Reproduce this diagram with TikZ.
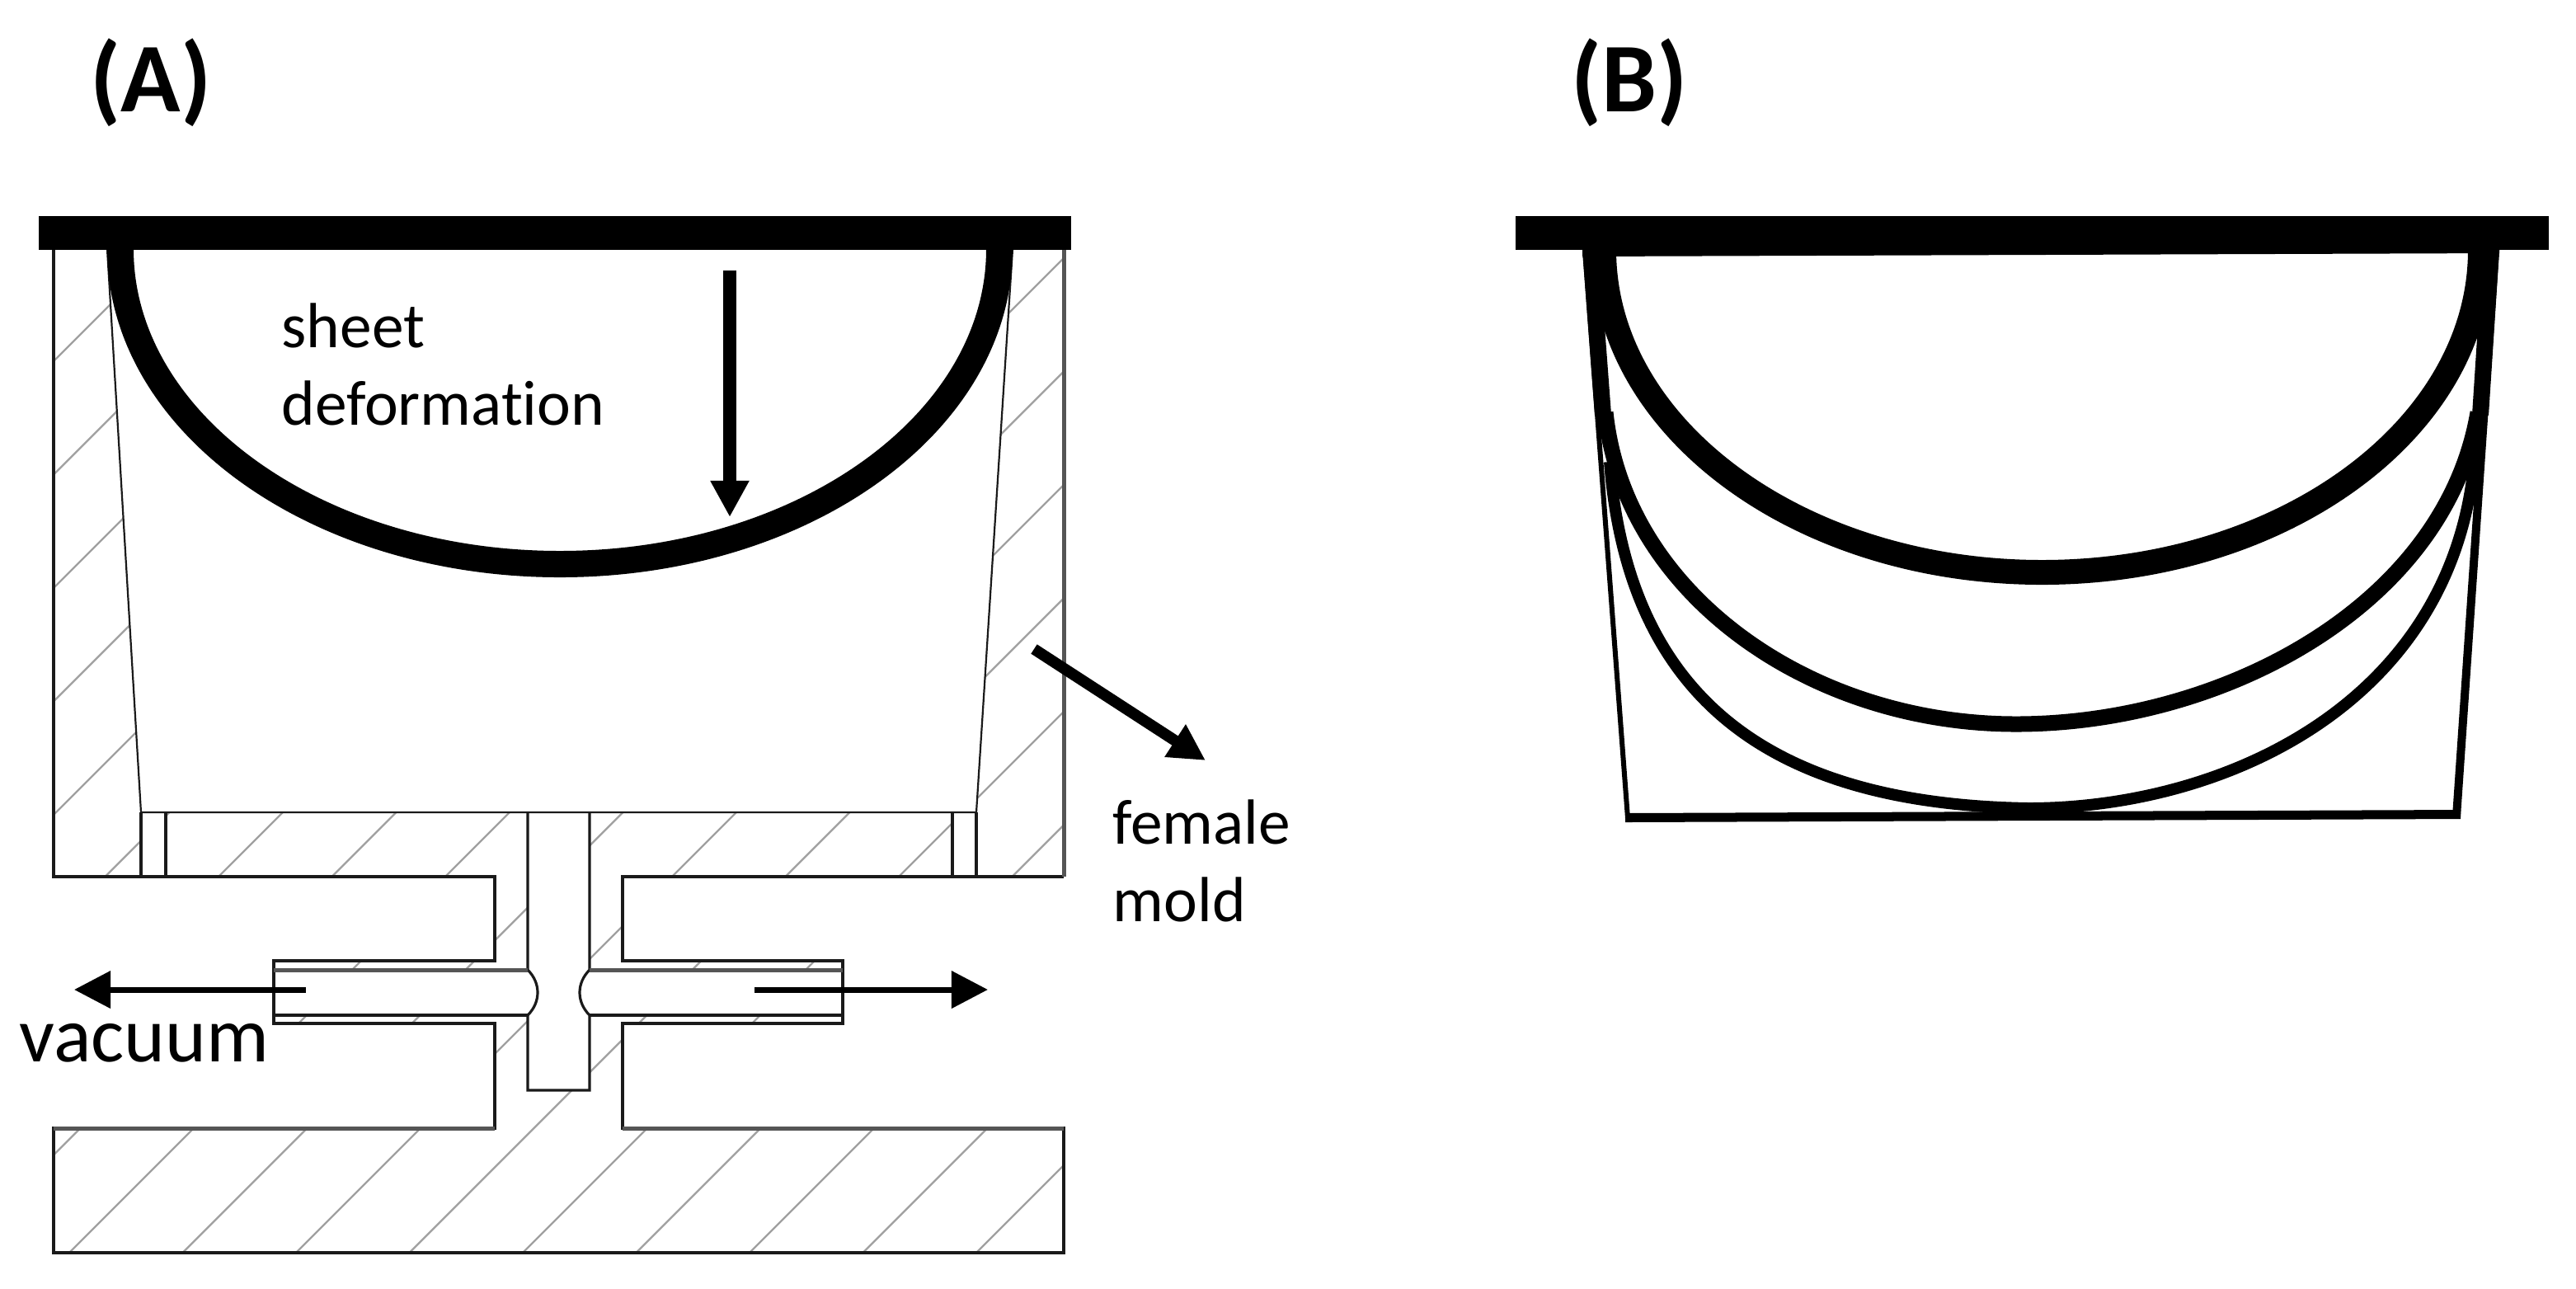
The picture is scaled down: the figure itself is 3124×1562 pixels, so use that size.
\documentclass[tikz,border=0pt]{standalone}
\usepackage{fontspec}
\setmainfont[Ligatures=NoCommon]{Carlito}
\usetikzlibrary{arrows.meta}
\definecolor{moldLine}{HTML}{1A1A1A}
\definecolor{moldDark}{HTML}{555555}
\definecolor{moldHatch}{HTML}{A0A0A0}
\tikzset{
  moldedge/.style={draw=moldLine, line width=.032cm},
  darkedge/.style={draw=moldDark, line width=.05cm},
  hatchline/.style={draw=moldHatch, line width=.022cm},
  sheetbar/.style={fill=black},
  sheetcurve/.style={draw=black, line width=#1, line cap=butt},
  panellabel/.style={inner sep=0pt, font=\fontsize{34}{38}\selectfont\bfseries},
  textlabel/.style={inner sep=0pt, align=left, font=\fontsize{22}{26.7}\selectfont},
  bigarrow/.style={draw=black, line width=#1, -{Triangle[width=.44cm,length=.44cm]}},
}
\begin{document}
\begin{tikzpicture}[x=.01cm,y=-.01cm]
    \useasboundingbox (0,0) rectangle (3124,1562);
    \begin{scope}[even odd rule]
        \clip (65,302) -- (1290,302) -- (1290,1063) -- (755,1063) -- (755,1165) -- (1022,1165) -- (1022,1241) -- (755,1241) -- (755,1368) -- (1290,1368) -- (1290,1519) -- (65,1519) -- (65,1368) -- (600,1368) -- (600,1241) -- (332,1241) -- (332,1165) -- (600,1165) -- (600,1063) -- (65,1063) -- cycle
            (130,302) -- (1228,302) -- (1184,985) -- (171,985) -- cycle
            (171,985) rectangle (201,1063) (1155,985) rectangle (1184,1063)
            (640,985) -- (715,985) -- (715,1176) -- (1022,1176) -- (1022,1231) -- (715,1231) -- (715,1322) -- (640,1322) -- (640,1231) -- (332,1231) -- (332,1176) -- (640,1176) -- cycle;
        \foreach \n in {-7,...,11} {
            \pgfmathsetmacro\hc{1328+137.5*\n}
            \draw [hatchline] ({\hc-1530},1530) -- ({\hc-300},300);
        }
    \end{scope}
    \draw [moldedge] (65,302) -- (65,1063) -- (600,1063) -- (600,1165) -- (332,1165) -- (332,1241) -- (600,1241) -- (600,1368) -- (65,1368) -- (65,1519) -- (1290,1519) -- (1290,1368) -- (755,1368) -- (755,1241) -- (1022,1241) -- (1022,1165) -- (755,1165) -- (755,1063) -- (1290,1063);
    \draw [darkedge] (65,1368) -- (600,1368) (755,1368) -- (1290,1368) (1290,1063) -- (1290,302);
    \draw [moldedge, line width=.022cm] (130,302) -- (171,985) -- (1184,985) -- (1228,302);
    \draw [moldedge] (171,985) -- (171,1063) (201,985) -- (201,1063) (1155,985) -- (1155,1063) (1184,985) -- (1184,1063);
    \draw [moldedge] (640,985) -- (640,1176) .. controls (656,1192) and (656,1215) .. (640,1231) -- (640,1322) -- (715,1322) -- (715,1231) .. controls (699,1215) and (699,1192) .. (715,1176) -- (715,985);
    \draw [darkedge] (332,1176) -- (640,1176) (715,1176) -- (1022,1176);
    \draw [moldedge] (332,1231) -- (640,1231) (715,1231) -- (1022,1231);
    \draw [sheetcurve=.32cm] (146,302) arc [start angle=180, end angle=0, x radius=533, y radius=382];
    \fill [sheetbar] (47,262) rectangle (1299,303);
    \coordinate (presstop) at (885,328);
    \coordinate (presstip) at (885,627);
    \draw [bigarrow=.16cm] (presstop) -- (presstip);
    \coordinate (moldtail) at (1254,787);
    \coordinate (moldtip) at (1462,922);
    \draw [bigarrow=.135cm] (moldtail) -- (moldtip);
    \coordinate (vacleft) at (371,1200);
    \coordinate (vacleftip) at (90,1200);
    \draw [bigarrow=.07cm] (vacleft) -- (vacleftip);
    \coordinate (vacright) at (915,1200);
    \coordinate (vacrightip) at (1198,1200);
    \draw [bigarrow=.07cm] (vacright) -- (vacrightip);
    \node [panellabel] (labelA) at (183,100) {(A)};
    \node [panellabel] (labelB) at (1976,100) {(B)};
    \node [textlabel, anchor=west] (sheetlabel) at (341,442) {sheet\\deformation};
    \node [textlabel, anchor=west] (moldlabel) at (1349,1044) {female\\mold};
    \node [inner sep=0pt, anchor=base west, font=\fontsize{27}{30}\selectfont] (vaclabel) at (23,1287) {vacuum};
    \draw [sheetcurve=.06cm] (1922,303) -- (1974,992);
    \draw [sheetcurve=.11cm] (1971,991.5) -- (2984,987.5);
    \draw [sheetcurve=.10cm] (3026,303) -- (2979,990);
    \draw [sheetcurve=.20cm] (1929,303) -- (1944,503);
    \draw [sheetcurve=.20cm] (3021,303) -- (3008,503);
    \draw [sheetcurve=.30cm] (1945,303) arc [start angle=180, end angle=0, x radius=531.5, y radius=391];
    \draw [sheetcurve=.19cm] (1947,500) .. controls (1970,720) and (2195,878) .. (2445,878) .. controls (2695,878) and (2965,735) .. (3005,500);
    \draw [sheetcurve=.14cm] (1952,560) .. controls (1975,850) and (2150,975) .. (2460,980) .. controls (2700,980) and (2985,850) .. (3002,540);
    \fill [sheetbar] (1838,262) rectangle (3091,303);
    \fill [sheetbar] (1919,303) -- (3031,303) -- (3031,307) -- (1919,311) -- cycle;
\end{tikzpicture}
\end{document}
